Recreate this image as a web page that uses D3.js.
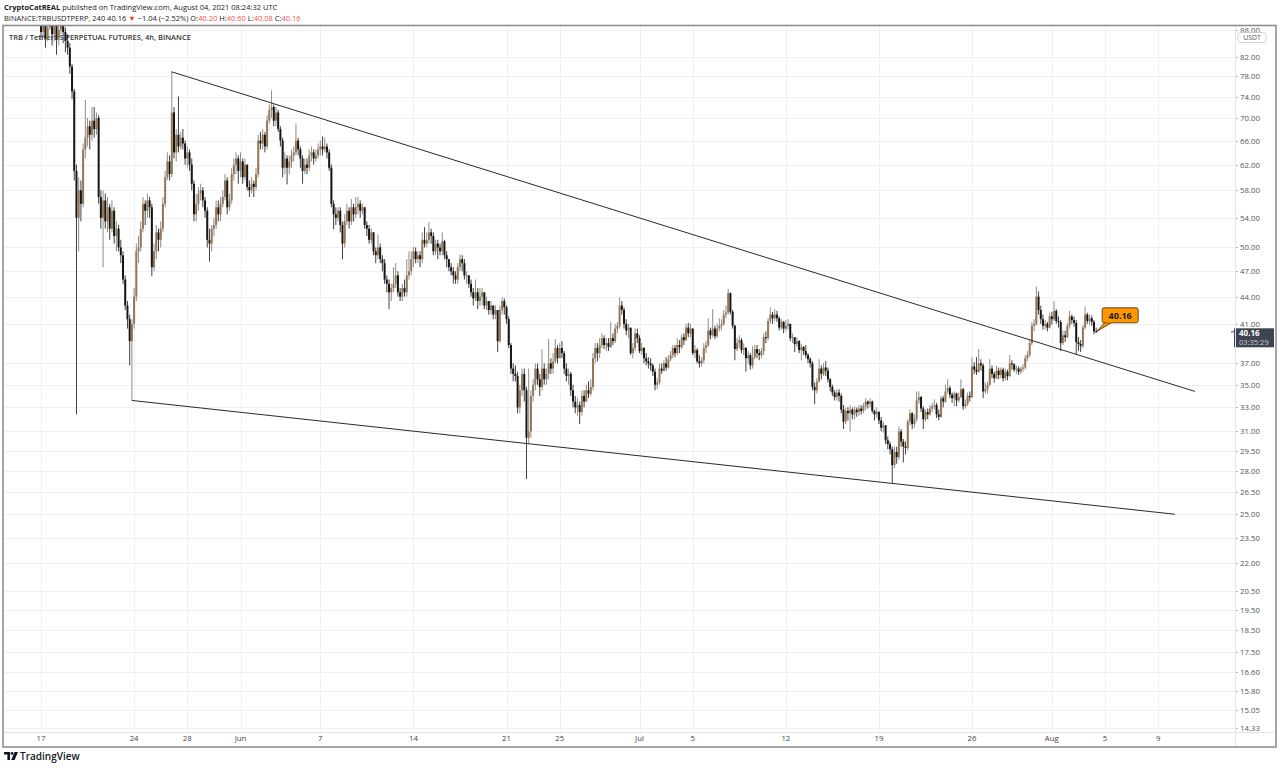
<!DOCTYPE html>
<html>
<head>
<meta charset="utf-8">
<script src="https://cdn.jsdelivr.net/npm/d3@7"></script>
<style>
  html, body { margin: 0; padding: 0; background: #fff; }
  svg { display: block; font-family: "Open Sans", sans-serif; }
</style>
</head>
<body>
<div id="chart"></div>
<script>
// ── Data: TRBUSDTPERP 4h candles, 17 May → 4 Aug 2021 ──
const START = Date.UTC(2021, 4, 17, 0, 0);
const BAR_MS = 4 * 3600e3;
const FIRST_OPEN = 89;

// one row per day, six 4h bars each
const closes = [
  87.5,90.5,86.0,88.5,91.0,87.0,  89.5,86.0,88.0,90.5,87.5,85.5,  84.0,80.0,75.0,61.0,54.0,58.0,
  56.0,64.5,66.5,68.5,67.0,69.5,  68.0,70.0,57.0,54.0,56.5,53.5,  55.5,52.5,55.0,51.5,52.5,50.0,
  49.0,46.0,43.0,41.5,39.2,41.0,  44.0,49.5,50.0,52.5,56.0,55.0,  56.5,55.5,47.5,49.5,52.0,51.0,
  52.5,56.0,60.0,62.5,60.5,71.0,  64.0,67.0,65.0,66.5,65.5,63.0,  64.0,62.0,59.0,54.5,56.0,57.5,
  58.0,56.5,55.0,51.0,50.5,52.5,  53.0,55.5,54.5,56.0,57.0,59.5,  55.5,56.5,60.5,62.0,63.0,61.0,
  62.5,60.0,62.0,58.5,58.0,59.0,  58.5,60.5,66.0,65.5,67.0,65.0,  69.5,71.5,72.0,69.5,71.0,68.0,
  66.0,61.5,63.0,61.5,62.5,63.5,  64.0,66.0,64.5,63.0,61.0,62.0,  61.5,63.5,64.0,63.0,63.5,64.5,
  65.0,64.5,65.0,64.0,61.5,56.0,  54.5,54.0,55.0,53.0,50.5,53.5,  55.0,53.5,55.5,54.5,55.5,56.0,
  55.0,55.5,53.0,52.5,51.0,52.0,  49.5,49.0,50.0,48.5,48.0,46.0,  45.5,44.5,45.0,45.5,46.5,44.5,
  44.0,45.0,44.5,46.5,47.0,48.5,  49.5,48.5,49.0,48.5,51.0,50.5,  51.0,52.0,51.5,49.5,50.5,50.0,
  49.5,50.8,49.0,48.5,47.5,47.0,  46.5,46.0,47.5,48.5,48.0,46.5,  46.5,45.5,44.5,43.8,44.5,43.5,
  44.0,44.5,43.0,43.5,42.5,43.0,  42.0,42.5,39.2,42.5,43.5,42.8,  41.5,38.8,36.5,36.0,35.8,33.0,
  34.5,36.0,34.5,30.5,31.0,34.0,  35.0,36.5,35.5,34.8,36.5,35.5,  36.0,37.0,36.5,37.2,38.5,37.5,
  38.5,38.0,36.5,35.8,36.0,34.5,  33.5,33.0,33.2,32.6,34.0,33.5,  34.5,34.2,34.8,37.5,38.5,38.0,
  38.8,39.5,38.8,39.0,38.6,39.5,  39.2,40.5,40.8,43.0,42.5,41.0,  40.3,40.6,38.0,38.5,40.0,39.5,
  38.2,38.5,37.5,37.2,37.0,36.8,  36.2,35.0,35.2,36.5,36.3,37.0,  36.6,37.4,37.8,38.5,38.0,38.8,
  38.6,39.6,39.3,40.6,40.0,40.5,  38.0,38.3,37.2,37.0,37.3,38.5,  38.8,40.3,39.8,40.5,39.7,40.5,
  40.8,41.0,42.0,42.2,44.4,42.3,  40.8,38.4,39.0,39.3,38.3,38.5,  37.5,37.8,36.8,37.6,38.4,38.0,
  37.8,38.2,39.6,39.5,41.3,42.0,  41.6,42.0,41.6,40.6,41.2,40.5,  40.8,41.0,39.5,39.6,38.9,39.2,
  38.3,38.6,38.2,37.8,37.4,37.0,  34.8,34.5,35.3,36.5,36.0,36.6,  36.3,35.5,34.8,34.3,33.9,34.3,
  34.0,32.8,31.8,32.7,32.5,32.8,  32.4,32.8,32.6,32.9,32.7,33.1,  33.5,33.3,33.5,32.7,32.4,32.6,
  31.9,31.3,31.5,30.3,30.0,29.6,  28.4,29.4,29.0,31.0,30.2,29.8,  29.7,31.8,32.5,31.6,32.0,33.6,
  33.9,32.9,32.0,32.6,32.4,32.9,  33.1,33.2,32.4,32.2,33.8,33.5,  34.4,34.7,34.1,33.8,34.2,33.6,
  33.9,34.6,33.1,33.3,34.0,33.9,  36.7,36.4,36.2,37.0,36.8,34.4,  34.6,35.0,36.5,36.0,35.6,36.3,
  35.9,36.4,35.6,36.2,35.8,37.0,  36.9,36.4,36.5,36.2,36.5,36.6,  37.5,37.8,39.0,40.8,41.0,44.0,
  42.5,41.5,40.8,41.0,40.6,41.8,  41.5,42.4,41.3,41.2,39.0,39.8,  39.6,40.8,41.8,41.4,41.1,39.1,
  38.9,38.7,40.6,42.0,41.3,41.6,  41.2,40.2,40.16
];

const highs = [
  91,93,91,90,93,92,  91,91,90,93,91,88.5,  87,85,80.5,75.5,62,60,
  59.5,65.5,73.4,70,69.5,72,  72,71,70.5,58,58,57.5,  57,56,56.5,55.5,53.5,53,
  51,49.5,46.5,43.5,42,41.5,  45,50.5,51.5,53.5,57,56.5,  57.5,57,56,50.5,53,52.5,
  53.5,57,61,64,63.5,79,  72,68,74,67.5,68,66,  65,64.5,63,59.5,57.5,58.5,
  59,58.5,57,55.5,52.5,53,  54,56.5,56.5,57,58,60.5,  60,57.5,61.5,63,64,63.5,
  64,63,63,62,59.5,60,  59.5,61.5,67,67.5,68,67.5,  70.5,72.5,75.2,72.5,72,71.5,
  68.5,66.5,64,63.5,63.5,64.5,  65,69,66.5,65,63.5,63,  63,64.5,65,64.5,64.5,65.5,
  66,66.7,66.5,65.5,64.5,62,  56.5,55.5,55.5,55.5,53.5,54.5,  56,55.5,56.7,56,57,57,
  56.5,56,55.5,53.5,53,52.5,  52,50,51.7,50.5,49,48.5,  46.5,46,45.5,47.5,48,47,
  45,45.5,46,48.5,49.5,49.5,  50.1,50,49.5,49.5,52,52.7,  52,53.4,52.5,52,51,51,
  50.5,52,51,49.5,48.5,48,  47.5,47,48,49.1,49,48.5,  47,46.5,46,45,46,45,
  45,45,44.5,44,43.5,43.5,  43,43,42.5,43,43.9,43.8,  43,41.8,39,37,36.8,36.2,
  35,36.5,36.5,34.8,36.5,34.5,  35.5,37,37,36,38.4,37,  36.5,39.4,37.5,38,39.4,38.8,
  39,39.2,38.2,37,36.5,36.2,  35,34,33.8,33.5,34.5,34.5,  35,35.3,35.5,38,39,39,
  39.5,40,39.8,39.5,39.5,41.2,  40,41,41.2,43.9,43.5,42.8,  41.5,41,40.5,39,40.5,40.5,
  39.8,39,38.6,38,37.6,37.5,  37,36.5,35.6,37,37,37.3,  37.6,37.8,38.2,38.8,38.8,39.5,
  39.3,39.9,40,41,41.1,41,  40.5,38.8,38.5,37.8,37.6,39,  39.2,41.6,40.6,42.6,40.8,41,
  41.6,41.5,42.5,43,44.9,44.5,  42.5,40.9,39.5,39.8,39.5,39,  38.6,38.2,38,38.7,38.8,38.8,
  38.4,38.5,40,40.2,41.6,42.8,  42.3,42.6,42.4,41.8,41.5,41.3,  41.4,41.5,41,40,39.6,39.6,
  39.3,38.9,38.7,38.8,38,37.6,  37.2,35.2,35.6,37.4,36.8,37,  37.2,36.6,35.6,35,34.5,34.6,
  34.6,34.2,33.2,33,33,33.2,  33,33.1,33,33.2,33.2,33.4,  33.8,33.6,33.8,33.6,32.8,33,
  32.7,32.2,31.8,31.5,30.6,30.2,  29.8,29.8,29.8,31.4,31.2,30.4,  30.2,32,32.8,32.6,32.4,34.4,
  34.4,34,33.1,32.8,32.9,33.2,  33.4,33.7,33.4,32.8,34,34,  35,35.5,34.9,34.3,34.4,34.3,
  34.3,35.5,34.7,33.7,34.3,34.4,  37.6,37.1,37.6,38.4,37.4,37,  35.2,35.3,37.4,36.8,36.2,36.8,
  36.6,36.6,36.6,36.5,36.4,37.8,  37.3,37,36.8,36.7,36.7,36.9,  37.8,38.2,39.3,41.2,41.5,45.2,
  44.6,43,42,41.4,41.2,42.2,  42.3,43.5,42.6,41.8,41.4,40.3,  40.3,41.1,42.4,42,41.8,41.4,
  39.6,39.3,40.9,42.9,42.2,42,  41.9,41.4,40.6
];

const lows = [
  86,86.5,84,85.5,88,84.5,  85.5,82.5,84.5,87,85,83,  82.5,78.5,73.5,59.5,32.4,49.5,
  53.5,55.5,63,65,64.5,66,  66.5,67,56,52.5,47.5,52.5,  52,51,52,50.5,49.5,49.5,
  48,45.5,42.5,40.5,36.8,33.6,  40.5,43.5,48,49.5,52,53,  54,54,46.4,47,48.5,49.5,
  50,52,55.5,59.5,59.5,60,  63,62.5,64,64.5,64.5,62,  61.5,61,58,53.5,53.5,55,
  56.5,55.5,54,50,48.2,49.5,  51.5,52.5,53.5,53.5,55.5,56.5,  54.5,55,56,59.5,60.5,59,
  60,59,59.5,58,57,57.5,  57,58,60,64.5,64.5,64,  64.5,69,70,68.5,68.5,67.5,
  65,60,60.5,58.9,60.5,61.5,  62.5,63.5,63.5,61.5,59,60.5,  60.5,61,62.5,62,62.5,63,
  63.5,63.5,64,63,61,55.5,  52.4,53,53.5,52,48.5,50,  53,52.5,53,53.5,54,54.5,
  54,54.5,52.5,51.5,50.5,50.5,  49,48,48.5,48,47,45.5,  44.5,42.6,43.5,44.5,45,44,
  43.5,43.5,44,44,46,46.5,  47.5,48,48,47.5,48,50,  50,50.5,50.5,49,49,48.5,
  49,49,48.5,47.5,47,46.5,  45.5,45.5,45.5,47,47,46,  45.5,45,44,43,43.5,42.6,
  43,43,42.6,42.5,42,42,  41.5,41.5,38.1,39,42,42,  41,38.5,36,35.3,35.3,32.5,
  32.5,34,33.5,27.4,30,30.5,  33.5,34.5,35,34,34.5,35,  35,35.5,36,36,37,37,
  37.5,37.5,36,35.3,35,34,  33,32.5,32.3,31.6,32.3,33,  33.5,33.8,34,34.5,37,37.2,
  37.5,38.5,38.4,38.2,38.2,38.5,  38.8,39,40,40.5,42,40.5,  39.8,39.5,37.8,37.5,38.2,39,
  38,37.8,37,36.8,36.5,36.3,  35.8,34.5,34.6,35,36,36.2,  36.3,36.5,37.2,37.5,37.6,37.8,
  38,38.4,38.8,39.2,39.6,39.6,  37.8,37.5,37,36.6,36.7,37,  38,38.6,39.4,39.6,39.4,39.5,
  40.2,40.3,40.8,41.6,42,42,  40.5,37.3,38.2,38.5,38,37.8,  36.2,37,36.4,36.5,37.4,37.5,
  37.3,37.5,37.8,39,39.3,41,  41,41.3,41.2,40.3,40.4,40,  40.2,40.4,39.2,39,38.1,38.6,
  38,37.3,37.8,37.5,37,36.6,  34.5,33.3,34.2,35.2,35.5,35.8,  35.8,35.2,34.4,34,33.6,33.6,
  33.5,32.5,31.2,31.6,31.9,31,  32,32,32.2,32.3,32.4,32.5,  32.8,32.9,33,32.5,31.9,32.1,
  31.6,31,30.9,30,29.6,29.2,  27.1,28.2,28.5,28.8,29.8,28.6,  29.2,29.5,31.5,31.2,31.3,31.8,
  33.3,32.6,31.2,31.8,32,32.3,  32.6,32.8,32.1,31.9,32.1,33,  33.4,34.2,33.8,33.4,33.1,33.1,
  33.4,33.8,32.8,32.9,33.1,33.5,  33.8,36,35.9,36.1,36.3,33.8,  34.2,34.2,34.9,35.6,35.2,35.5,
  35.5,35.6,35.3,35.4,35.4,35.7,  36.4,36.2,36,35.9,36,36.2,  36.4,37.2,37.6,38.8,40.2,40.8,
  42,41,40.4,40.4,40.2,40.5,  40.9,41.3,41,40.6,38.2,38.8,  39.1,39.5,40.5,41,40.7,37.9,
  38.2,38.1,38.5,40.4,41,40.9,  40.8,39.9,40.08
];

const priceTicks = [88,82,78,74,70,66,62,58,54,50,47,44,41,37,35,33,31,29.5,28,26.5,25,23.5,22,20.5,19.5,18.5,17.5,16.6,15.8,15.05,14.33];
const timeTicks  = ["2021-05-17","2021-05-24","2021-05-28","2021-06-01","2021-06-07","2021-06-14","2021-06-21",
                    "2021-06-25","2021-07-01","2021-07-05","2021-07-12","2021-07-19","2021-07-26","2021-08-01",
                    "2021-08-05","2021-08-09"];
const timeLabels = ["17","24","28","Jun","7","14","21","25","Jul","5","12","19","26","Aug","5","9"];

// hand-drawn trendlines (time, price)
const upperTrend = [["2021-05-26T20:00Z", 78.9], ["2021-08-11T18:00Z", 34.4]];
const lowerTrend = [["2021-05-23T20:00Z", 33.6], ["2021-08-10T06:00Z", 25.0]];

const LAST = { price: 40.16, open: 40.20, high: 40.60, low: 40.08, change: -1.04, pct: -2.52, countdown: "03:35:29" };

// ── Layout ──
const W = 1280, H = 770;
const plot = { left: 4, right: 1235, top: 26, bottom: 732 };
const frameBottom = 747, frameRight = 1276;

const svg = d3.select("#chart").append("svg").attr("width", W).attr("height", H);

const x = d3.scaleUtc()
  .domain([new Date(START - 2.782 * 864e5), new Date(START + 89.77 * 864e5)])
  .range([plot.left, plot.right]);

const y = d3.scaleLog()
  .domain([88.88, 14.20])
  .range([plot.top, plot.bottom]);

const bars = closes.map((c, i) => ({
  t: new Date(START + i * BAR_MS),
  o: i === 0 ? FIRST_OPEN : closes[i - 1],
  h: highs[i], l: lows[i], c
}));

// ── Header ──
const head = svg.append("g").attr("font-size", 7.5).attr("fill", "#222");
head.append("text").attr("x", 4).attr("y", 10)
  .call(t => {
    t.append("tspan").attr("font-weight", 700).text("CryptoCatREAL");
    t.append("tspan").text(" published on TradingView.com, August 04, 2021 08:24:32 UTC");
  });
head.append("text").attr("x", 4).attr("y", 21)
  .call(t => {
    t.append("tspan").text(`BINANCE:TRBUSDTPERP, 240 ${LAST.price.toFixed(2)} `);
    t.append("tspan").attr("fill", "#e53935").text("▼");
    t.append("tspan").text(` −${Math.abs(LAST.change).toFixed(2)} (−${Math.abs(LAST.pct).toFixed(2)}%) O:`);
    t.append("tspan").attr("fill", "#ef5350").text(LAST.open.toFixed(2));
    t.append("tspan").text(" H:");
    t.append("tspan").attr("fill", "#ef5350").text(LAST.high.toFixed(2));
    t.append("tspan").text(" L:");
    t.append("tspan").attr("fill", "#ef5350").text(LAST.low.toFixed(2));
    t.append("tspan").text(" C:");
    t.append("tspan").attr("fill", "#ef5350").text(LAST.price.toFixed(2));
  });

// ── Grid ──
const grid = svg.append("g").attr("stroke", "#eef0f3").attr("stroke-width", 1);
grid.selectAll("line.h").data(priceTicks).join("line")
  .attr("x1", plot.left).attr("x2", plot.right)
  .attr("y1", d => Math.round(y(d)) + 0.5).attr("y2", d => Math.round(y(d)) + 0.5);
grid.selectAll("line.v").data(timeTicks).join("line")
  .attr("y1", plot.top).attr("y2", plot.bottom)
  .attr("x1", d => Math.round(x(new Date(d + "T00:00Z"))) + 0.5)
  .attr("x2", d => Math.round(x(new Date(d + "T00:00Z"))) + 0.5);

// ── Legend inside the pane (candles paint over it) ──
svg.append("text").attr("x", 9).attr("y", 40)
  .attr("font-size", 7.5).attr("font-weight", 600).attr("fill", "#333")
  .text("TRB / TetherUS PERPETUAL FUTURES, 4h, BINANCE");

// ── Candles ──
const defs = svg.append("defs");
defs.append("clipPath").attr("id", "pane")
  .append("rect").attr("x", plot.left).attr("y", plot.top)
  .attr("width", plot.right - plot.left).attr("height", plot.bottom - plot.top);
defs.append("clipPath").attr("id", "scale")
  .append("rect").attr("x", plot.right).attr("y", plot.top)
  .attr("width", frameRight - plot.right).attr("height", plot.bottom - plot.top);

const pane = svg.append("g").attr("clip-path", "url(#pane)");
const bw = 2;
const candle = pane.selectAll("g.bar").data(bars).join("g").attr("class", "bar");

candle.append("line")
  .attr("x1", d => x(d.t)).attr("x2", d => x(d.t))
  .attr("y1", d => y(d.h)).attr("y2", d => y(d.l))
  .attr("stroke", d => d.c >= d.o ? "#808080" : "#2a2a2a")
  .attr("stroke-width", 0.9);

candle.append("rect")
  .attr("x", d => x(d.t) - bw / 2)
  .attr("width", bw)
  .attr("y", d => y(Math.max(d.o, d.c)))
  .attr("height", d => Math.max(1, y(Math.min(d.o, d.c)) - y(Math.max(d.o, d.c))))
  .attr("fill", d => d.c >= d.o ? "#967754" : "#161616");

// ── Trendlines ──
pane.selectAll("line.trend").data([upperTrend, lowerTrend]).join("line")
  .attr("class", "trend")
  .attr("x1", d => x(new Date(d[0][0]))).attr("y1", d => y(d[0][1]))
  .attr("x2", d => x(new Date(d[1][0]))).attr("y2", d => y(d[1][1]))
  .attr("stroke", "#2a2a2a").attr("stroke-width", 1);

// ── Price callout on last bar ──
const last = bars[bars.length - 1];
const ax = x(last.t), ay = y(last.c);
const bx = ax + 6, by = ay - 24, bwid = 36, bht = 15;
svg.append("path")
  .attr("d", `M${ax},${ay} L${bx + 3},${by + bht - 0.5} L${bx + 10},${by + bht - 0.5} Z`)
  .attr("fill", "#ff9800").attr("stroke", "#3a2a00").attr("stroke-width", 0.8);
svg.append("rect").attr("x", bx).attr("y", by).attr("width", bwid).attr("height", bht)
  .attr("rx", 2).attr("fill", "#ff9800").attr("stroke", "#3a2a00").attr("stroke-width", 0.8);
svg.append("path")
  .attr("d", `M${bx + 3.5},${by + bht - 1} L${bx + 9.5},${by + bht - 1}`)
  .attr("stroke", "#ff9800").attr("stroke-width", 1.6);
svg.append("text").attr("x", bx + bwid / 2).attr("y", by + 11)
  .attr("text-anchor", "middle").attr("font-size", 9).attr("font-weight", 700).attr("fill", "#1a1a1a")
  .text(LAST.price.toFixed(2));

// ── Price axis ──
const axisG = svg.append("g").attr("clip-path", "url(#scale)").attr("font-size", 7.8).attr("fill", "#555");
axisG.selectAll("text").data(priceTicks).join("text")
  .attr("x", plot.right + 5).attr("y", d => y(d) + 3)
  .text(d => d.toFixed(2));
axisG.selectAll("line").data(priceTicks).join("line")
  .attr("x1", plot.right).attr("x2", plot.right + 3)
  .attr("y1", d => Math.round(y(d)) + 0.5).attr("y2", d => Math.round(y(d)) + 0.5)
  .attr("stroke", "#bbb");

// currency tag
svg.append("rect").attr("x", 1238).attr("y", 32.5).attr("width", 28).attr("height", 10)
  .attr("rx", 2).attr("fill", "#fff").attr("stroke", "#c8c8c8").attr("stroke-width", 0.8);
svg.append("text").attr("x", 1252).attr("y", 40.3).attr("text-anchor", "middle")
  .attr("font-size", 6.8).attr("fill", "#555").text("USDT");

// last price + countdown tag
const ly = y(LAST.price);
svg.append("rect").attr("x", plot.right - 1).attr("y", ly - 3.5).attr("width", 40).attr("height", 19)
  .attr("fill", "#3e4451");
svg.append("line").attr("x1", plot.right - 4).attr("x2", plot.right).attr("y1", ly).attr("y2", ly)
  .attr("stroke", "#3e4451");
svg.append("text").attr("x", plot.right + 4).attr("y", ly + 4)
  .attr("font-size", 8).attr("font-weight", 700).attr("fill", "#fff").text(LAST.price.toFixed(2));
svg.append("text").attr("x", plot.right + 4).attr("y", ly + 12.8)
  .attr("font-size", 7.5).attr("fill", "#c9ccd3").text(LAST.countdown);

// ── Time axis ──
svg.append("g").attr("font-size", 7.8).attr("fill", "#444").attr("text-anchor", "middle")
  .selectAll("text").data(timeTicks).join("text")
  .attr("x", d => x(new Date(d + "T00:00Z")))
  .attr("y", 741)
  .text((d, i) => timeLabels[i]);

// ── Frame ──
const fr = svg.append("g").attr("fill", "none");
fr.append("line").attr("x1", plot.right + 0.5).attr("x2", plot.right + 0.5)
  .attr("y1", plot.top).attr("y2", frameBottom).attr("stroke", "#e3e3e3");
fr.append("line").attr("x1", plot.left).attr("x2", frameRight)
  .attr("y1", plot.bottom + 0.5).attr("y2", plot.bottom + 0.5).attr("stroke", "#e3e3e3");
fr.append("rect").attr("x", 3).attr("y", 25.5)
  .attr("width", frameRight - 3).attr("height", frameBottom - 25.5)
  .attr("stroke", "#8f8f8f").attr("stroke-width", 1.6);

// ── TradingView mark ──
const logo = svg.append("g").attr("transform", "translate(4,752)").attr("fill", "#131722");
logo.append("path").attr("d", "M0,0 H6 V8 H3.4 V2.6 H0 Z");
logo.append("circle").attr("cx", 8).attr("cy", 1.4).attr("r", 1.4);
logo.append("path").attr("d", "M10.5,0 H14 L10.6,8 H7.2 Z");
svg.append("text").attr("x", 20).attr("y", 760)
  .attr("font-size", 10).attr("font-weight", 600).attr("fill", "#131722").text("TradingView");
</script>
</body>
</html>
